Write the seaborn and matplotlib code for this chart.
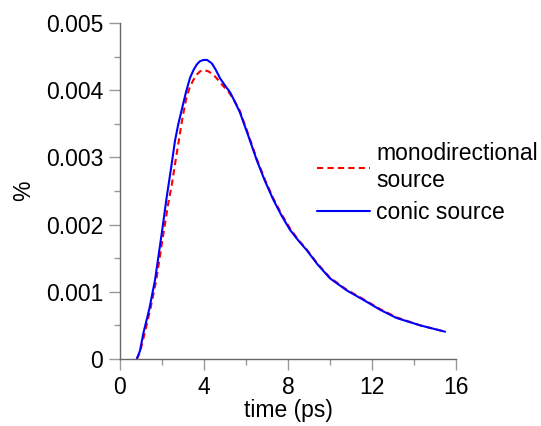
import pandas as pd
import seaborn as sns
import matplotlib.pyplot as plt

# conic source (blue, solid)
t_conic = [0.8, 0.95, 1.11, 1.4, 1.67, 1.98, 2.22, 2.46, 2.62, 2.78, 2.94, 3.15, 3.33,
           3.5, 3.65, 3.8, 3.97, 4.15, 4.37, 4.55, 4.76, 5.0, 5.24, 5.45,
           5.71, 6.1, 6.51, 6.9, 7.3, 7.7, 8.1, 8.5, 8.89, 9.4, 10.0, 10.8, 11.59,
           12.4, 13.17, 14.3, 15.48]
y_conic = [0.0, 0.00012, 0.00038, 0.00075, 0.00118, 0.00185, 0.0024, 0.0029,
           0.00325, 0.0035, 0.00371, 0.00398, 0.00418, 0.0043, 0.00438, 0.00443,
           0.00445, 0.00445, 0.0044, 0.00431, 0.00418, 0.00407, 0.00397, 0.00384,
           0.00367, 0.00333, 0.00296, 0.00265, 0.00237, 0.00213,
           0.00192, 0.00176, 0.00162, 0.00141, 0.0012, 0.00102, 0.00088, 0.00073,
           0.00061, 0.0005, 0.000406]

# monodirectional source (red, dashed)
t_mono = [0.8, 0.95, 1.15, 1.45, 1.73, 2.06, 2.3, 2.46, 2.62, 2.78, 2.97, 3.17, 3.33,
          3.49, 3.65, 3.81, 4.0, 4.21, 4.45, 4.68, 4.92, 5.16, 5.4, 5.71, 6.1,
          6.51, 6.9, 7.3, 7.7, 8.1, 8.5, 8.89, 9.4, 10.0, 10.8, 11.59, 12.4,
          13.17, 14.3, 15.48]
y_mono = [0.0, 0.0001, 0.00035, 0.00075, 0.00118, 0.00185, 0.00232, 0.00258,
          0.0029, 0.00321, 0.00358, 0.0039, 0.00405, 0.00415, 0.00423, 0.00428,
          0.0043, 0.00428, 0.00423, 0.00415, 0.00406, 0.00398, 0.00387, 0.00369,
          0.00335, 0.00298, 0.00267, 0.00239, 0.00215, 0.00194, 0.00177, 0.00163,
          0.00142, 0.00121, 0.00103, 0.00089, 0.00074, 0.00062, 0.0005, 0.000406]

sns.set_style('white')
plt.rcParams['font.family'] = ['Liberation Sans', 'DejaVu Sans']
plt.rcParams['text.color'] = 'black'
plt.rcParams['axes.labelcolor'] = 'black'

fig = plt.figure(figsize=(5.41, 4.26), dpi=100)
ax = fig.add_axes([0.2218, 0.1573, 0.6211, 0.7887])

mono = pd.DataFrame({'t': t_mono, 'y': y_mono})
conic = pd.DataFrame({'t': t_conic, 'y': y_conic})

sns.lineplot(data=mono, x='t', y='y', ax=ax, color='#ff0000', linewidth=1.5,
             label='monodirectional\nsource', sort=False)
mono_line = ax.lines[-1]
mono_line.set_dashes((3, 2))
sns.lineplot(data=conic, x='t', y='y', ax=ax, color='#0000ff', linewidth=1.5,
             label='conic source', sort=False)

ax.set_xlim(0, 16)
ax.set_ylim(0, 0.005)
ax.set_xticks([0, 4, 8, 12, 16])
ax.set_xticks([2, 6, 10, 14], minor=True)
ax.set_yticks([0, 0.001, 0.002, 0.003, 0.004, 0.005])
ax.set_yticklabels(['0', '0.001', '0.002', '0.003', '0.004', '0.005'])
ax.set_yticks([0.0005, 0.0015, 0.0025, 0.0035, 0.0045], minor=True)

for side in ['top', 'right']:
    ax.spines[side].set_visible(False)
for side in ['left', 'bottom']:
    ax.spines[side].set_color('#666666')
    ax.spines[side].set_linewidth(1.0)

ax.tick_params(which='major', direction='out', length=8, width=1, color='#999999',
               labelcolor='black', labelsize=16.5, pad=4, left=True, bottom=True)
ax.tick_params(which='minor', direction='out', length=4.5, width=1, color='#999999',
               left=True, bottom=True)

ax.set_xlabel('time (ps)', fontsize=16.5, labelpad=0, color='black')
ax.set_ylabel('%', fontsize=16.5, labelpad=8, color='black')

leg = ax.legend(loc='center left', bbox_to_anchor=(0.586, 0.524), frameon=False,
                fontsize=16.5, handlelength=2.3, handletextpad=0.3, labelspacing=0.4,
                borderaxespad=0, borderpad=0, labelcolor='black')
leg.get_lines()[0].set_dashes((3, 2))

fig.savefig('out.png', dpi=100)
